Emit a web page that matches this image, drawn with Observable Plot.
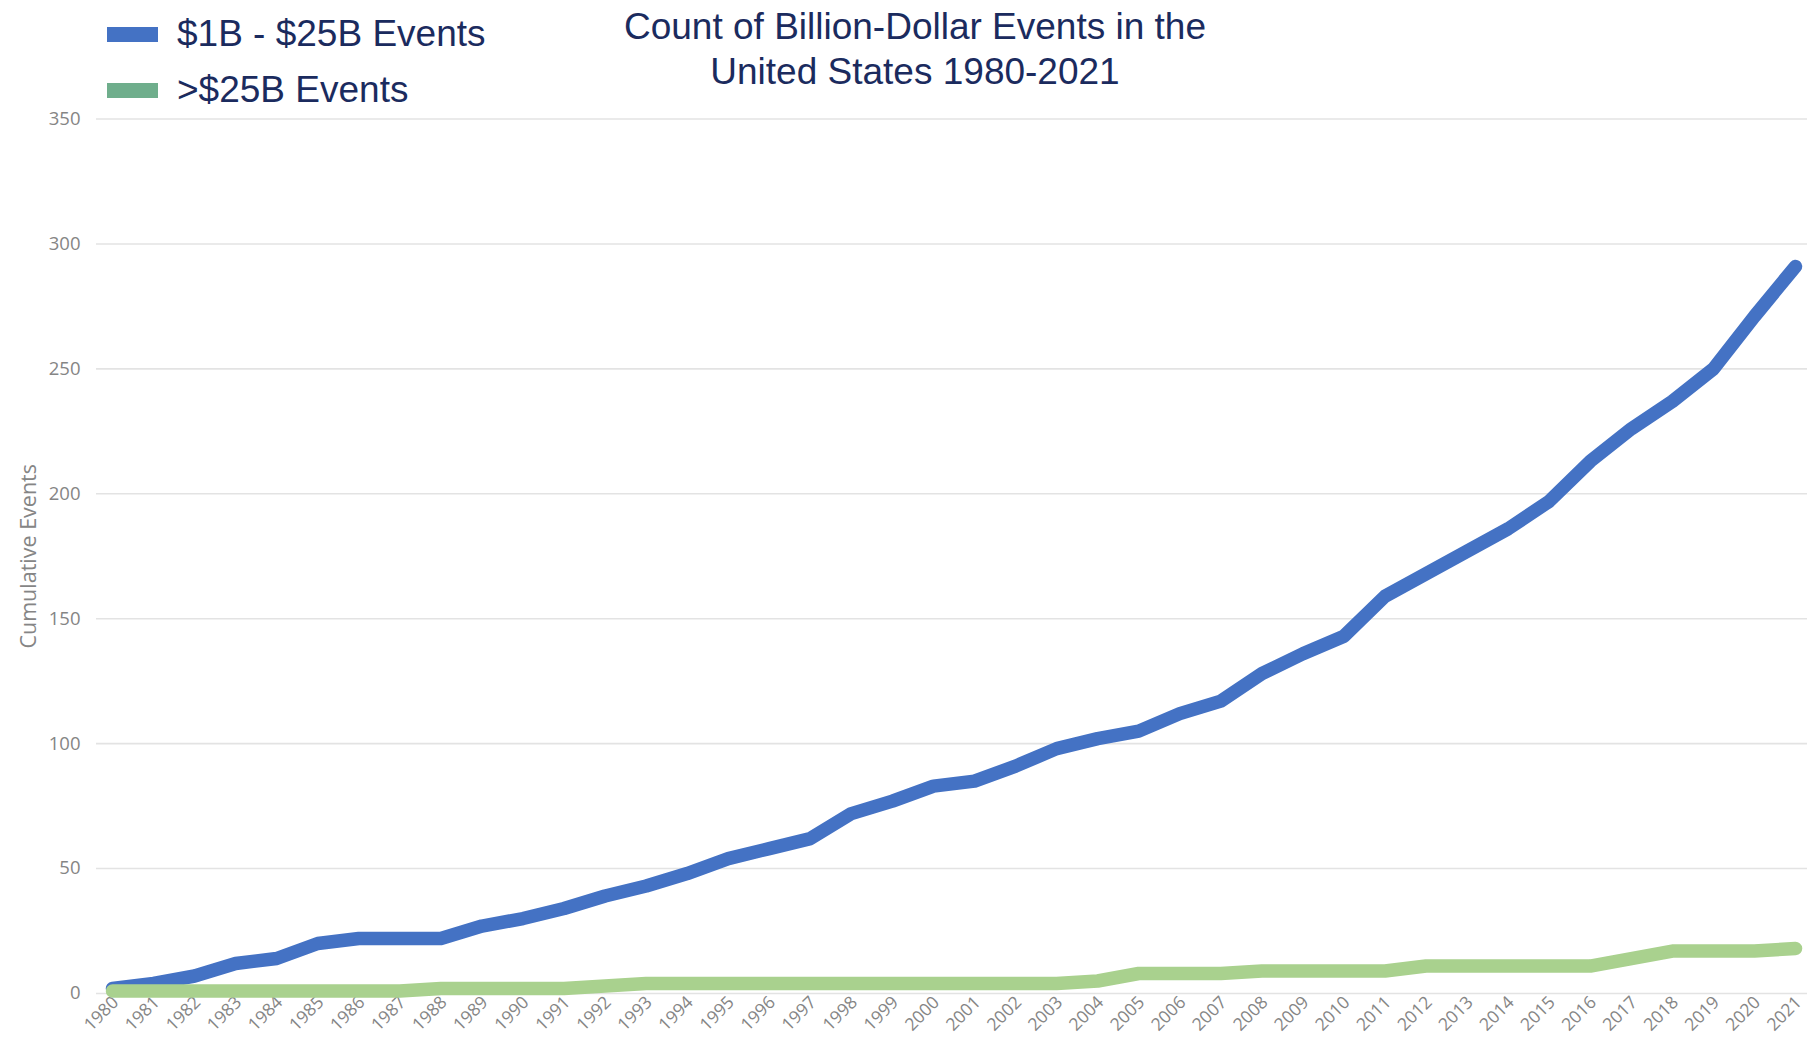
<!DOCTYPE html>
<html>
<head>
<meta charset="utf-8">
<script src="https://cdn.jsdelivr.net/npm/d3@7"></script>
<script src="https://cdn.jsdelivr.net/npm/@observablehq/plot@0.6"></script>
<style>
  body { margin: 0; background: #ffffff; }
  #wrap { position: relative; width: 1807px; height: 1051px; overflow: hidden; }
  #chart { position: absolute; left: 0; top: 0; }
  .title {
    position: absolute; left: 915px; top: 4px; transform: translateX(-50%);
    font-family: "Liberation Sans", Arial, sans-serif; font-size: 37px; line-height: 45px;
    color: #1b2b5e; text-align: center; white-space: nowrap;
  }
  .legend-item {
    position: absolute; left: 107px; height: 42px; display: flex; align-items: center;
  }
  .swatch { width: 51px; height: 15px; }
  .legend-label {
    margin-left: 19px; font-family: "Liberation Sans", Arial, sans-serif; font-size: 37px;
    line-height: 42px; color: #1b2b5e; white-space: nowrap;
  }
</style>
</head>
<body>
<div id="wrap">
  <div id="chart"></div>
  <div class="title">Count of Billion-Dollar Events in the<br>United States 1980-2021</div>
  <div id="legend"></div>
</div>
<script>
// ---- data ----
const years = [1980, 1981, 1982, 1983, 1984, 1985, 1986, 1987, 1988, 1989,
               1990, 1991, 1992, 1993, 1994, 1995, 1996, 1997, 1998, 1999,
               2000, 2001, 2002, 2003, 2004, 2005, 2006, 2007, 2008, 2009,
               2010, 2011, 2012, 2013, 2014, 2015, 2016, 2017, 2018, 2019,
               2020, 2021];
const seriesNames = ["$1B - $25B Events", ">$25B Events"];
const events1to25 = [2, 4, 7, 12, 14, 20, 22, 22, 22, 27,
                     30, 34, 39, 43, 48, 54, 58, 62, 72, 77,
                     83, 85, 91, 98, 102, 105, 112, 117, 128, 136,
                     143, 159, 168, 177, 186, 197, 213, 226, 237, 250,
                     271, 291];
const eventsOver25 = [1, 1, 1, 1, 1, 1, 1, 1, 2, 2,
                      2, 2, 3, 4, 4, 4, 4, 4, 4, 4,
                      4, 4, 4, 4, 5, 8, 8, 8, 9, 9,
                      9, 9, 11, 11, 11, 11, 11, 14, 17, 17,
                      17, 18];
const yTicks = [0, 50, 100, 150, 200, 250, 300, 350];
const yLabel = "Cumulative Events";

// ---- styles ----
const lineColors = ["#4472c4", "#a9d18e"];
const legendColors = ["#4472c4", "#6fae8c"];

const rowsA = years.map((year, i) => ({year, value: events1to25[i], series: seriesNames[0]}));
const rowsB = years.map((year, i) => ({year, value: eventsOver25[i], series: seriesNames[1]}));

const chart = Plot.plot({
  width: 1807,
  height: 1051,
  marginTop: 118.5,
  marginBottom: 58,
  marginLeft: 96,
  marginRight: 0,
  style: {fontFamily: "'Open Sans', sans-serif", background: "transparent", overflow: "visible"},
  x: {type: "linear", domain: [1980, 2021], insetLeft: 16, insetRight: 12},
  y: {domain: [0, 350]},
  marks: [
    Plot.ruleY(yTicks, {stroke: "#e3e3e3", strokeWidth: 1.6}),
    Plot.axisY(yTicks, {tickSize: 0, tickPadding: 16, fontSize: 18.5, fill: "#858585", label: null}),
    Plot.axisX(years, {tickSize: 0, tickRotate: -45, tickPadding: 6, dx: 3, tickFormat: d => String(d),
                       fontSize: 17.5, fill: "#858585", label: null}),
    Plot.text([yLabel], {frameAnchor: "left", textAnchor: "middle", rotate: -90, dx: -67,
                         fontSize: 21.5, fill: "#858585"}),
    Plot.line(rowsA, {x: "year", y: "value", stroke: lineColors[0], strokeWidth: 13.5,
                      strokeLinecap: "round", strokeLinejoin: "round"}),
    Plot.line(rowsB, {x: "year", y: "value", stroke: lineColors[1], strokeWidth: 13.5,
                      strokeLinecap: "round", strokeLinejoin: "round"})
  ]
});
document.getElementById("chart").appendChild(chart);

// ---- legend ----
const legendCenters = [34, 90];
const legend = document.getElementById("legend");
seriesNames.forEach((name, i) => {
  const item = document.createElement("div");
  item.className = "legend-item";
  item.style.top = (legendCenters[i] - 21) + "px";
  const sw = document.createElement("div");
  sw.className = "swatch";
  sw.style.background = legendColors[i];
  const lb = document.createElement("span");
  lb.className = "legend-label";
  lb.textContent = name;
  item.appendChild(sw);
  item.appendChild(lb);
  legend.appendChild(item);
});
</script>
</body>
</html>
